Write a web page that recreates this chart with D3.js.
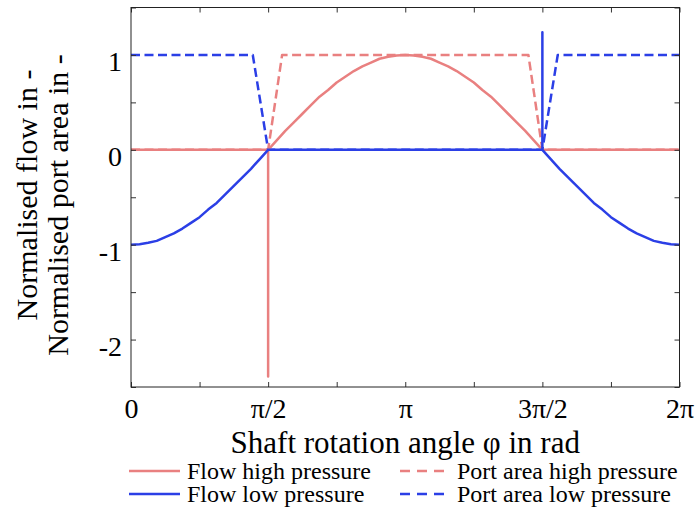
<!DOCTYPE html>
<html>
<head>
<meta charset="utf-8">
<script src="https://cdn.jsdelivr.net/npm/d3@7"></script>
<style>
  html, body { margin: 0; padding: 0; background: #fff; }
  svg { display: block; }
  text { font-family: "Liberation Serif", "Times New Roman", serif; fill: #000; }
</style>
</head>
<body>
<svg id="chart" width="695" height="509"></svg>
<script>
// ---------- data (phi in multiples of pi, value) ----------
const xTickValues = [0, 0.25, 0.5, 0.75, 1, 1.25, 1.5, 1.75, 2];
const xTickLabels = {0: "0", 0.5: "π/2", 1: "π", 1.5: "3π/2", 2: "2π"};
const yTickValues = [-2.5, -2, -1.5, -1, -0.5, 0, 0.5, 1, 1.5];
const yTickLabels = {"-2": "-2", "-1": "-1", "0": "0", "1": "1"};

const flowHigh = [
  [0, 0], [0.5, 0], [0.5, -2.39], [0.5, 0],
  [0.53125, 0.10], [0.5625, 0.20], [0.59375, 0.29], [0.625, 0.38],
  [0.65625, 0.47], [0.6875, 0.56], [0.71875, 0.63], [0.75, 0.71],
  [0.78125, 0.77], [0.8125, 0.83], [0.84375, 0.88], [0.875, 0.92],
  [0.90625, 0.96], [0.9375, 0.98], [0.96875, 0.995], [1, 1],
  [1.03125, 0.995], [1.0625, 0.98], [1.09375, 0.96], [1.125, 0.92],
  [1.15625, 0.88], [1.1875, 0.83], [1.21875, 0.77], [1.25, 0.71],
  [1.28125, 0.63], [1.3125, 0.56], [1.34375, 0.47], [1.375, 0.38],
  [1.40625, 0.29], [1.4375, 0.20], [1.46875, 0.10], [1.5, 0], [2, 0]
];
const flowLow = [
  [0, -1], [0.03125, -0.995], [0.0625, -0.98], [0.09375, -0.96], [0.125, -0.92],
  [0.15625, -0.88], [0.1875, -0.83], [0.21875, -0.77], [0.25, -0.71],
  [0.28125, -0.63], [0.3125, -0.56], [0.34375, -0.47], [0.375, -0.38],
  [0.40625, -0.29], [0.4375, -0.20], [0.46875, -0.10], [0.5, 0],
  [1.5, 0], [1.5, 1.24], [1.5, 0],
  [1.53125, -0.10], [1.5625, -0.20], [1.59375, -0.29], [1.625, -0.38],
  [1.65625, -0.47], [1.6875, -0.56], [1.71875, -0.63], [1.75, -0.71],
  [1.78125, -0.77], [1.8125, -0.83], [1.84375, -0.88], [1.875, -0.92],
  [1.90625, -0.96], [1.9375, -0.98], [1.96875, -0.995], [2, -1]
];
const portHigh = [[0, 0], [0.5, 0], [0.551, 1], [1.449, 1], [1.5, 0], [2, 0]];
const portLow = [[0, 1], [0.444, 1], [0.5, 0], [1.5, 0], [1.556, 1], [2, 1]];

const seriesNames = ["Flow high pressure", "Flow low pressure", "Port area high pressure", "Port area low pressure"];

// ---------- styles ----------
const RED = "#e98080";
const BLUE = "#2b3fe6";
const series = [
  {data: portHigh, color: RED, dash: "9,4.5"},
  {data: portLow, color: BLUE, dash: "9,4.5"},
  {data: flowHigh, color: RED, dash: null},
  {data: flowLow, color: BLUE, dash: null}
];

const L = 131, R = 679.5, T = 7.5, B = 387;
const svg = d3.select("#chart");
const x = d3.scaleLinear().domain([0, 2 * Math.PI]).range([L, R]);
const y = d3.scaleLinear().domain([-2.5, 1.5]).range([B, T]);

const line = d3.line()
  .x(d => x(d[0] * Math.PI))
  .y(d => y(d[1]));

const clipId = "plotclip";
svg.append("defs").append("clipPath").attr("id", clipId)
  .append("rect").attr("x", L).attr("y", T).attr("width", R - L).attr("height", B - T);

const plot = svg.append("g").attr("clip-path", `url(#${clipId})`);
series.forEach(s => {
  plot.append("path")
    .attr("d", line(s.data))
    .attr("fill", "none")
    .attr("stroke", s.color)
    .attr("stroke-width", 2.5)
    .attr("stroke-linejoin", "round")
    .attr("stroke-dasharray", s.dash);
});

// ---------- axes ----------
const xt = xTickValues.map(v => v * Math.PI);
const fmtX = v => { const k = Math.round(v / Math.PI * 100) / 100; return xTickLabels[k] || ""; };
const fmtY = v => yTickLabels[String(v)] || "";

const gx = svg.append("g").attr("transform", `translate(0,${B})`)
  .call(d3.axisBottom(x).tickValues(xt).tickSize(-5).tickPadding(11).tickFormat(fmtX));
svg.append("g").attr("transform", `translate(0,${T})`)
  .call(d3.axisTop(x).tickValues(xt).tickSize(-5).tickFormat(() => ""));
const gy = svg.append("g").attr("transform", `translate(${L},0)`)
  .call(d3.axisLeft(y).tickValues(yTickValues).tickSize(-5).tickPadding(9).tickFormat(fmtY));
svg.append("g").attr("transform", `translate(${R},0)`)
  .call(d3.axisRight(y).tickValues(yTickValues).tickSize(-5).tickFormat(() => ""));

svg.selectAll(".domain").remove();
svg.selectAll(".tick line").attr("stroke", "#333").attr("stroke-width", 1);
svg.selectAll("g").attr("font-family", "Liberation Serif");
gx.selectAll("text").style("font-size", "28px").style("font-family", "'Liberation Serif', serif").attr("fill", "#000");
gy.selectAll("text").style("font-size", "28px").style("font-family", "'Liberation Serif', serif").attr("fill", "#000").attr("dy", "0.57em");

svg.append("rect").attr("x", L).attr("y", T).attr("width", R - L).attr("height", B - T)
  .attr("fill", "none").attr("stroke", "#222").attr("stroke-width", 1);

// ---------- axis titles ----------
svg.append("text").attr("x", (L + R) / 2).attr("y", 453)
  .attr("text-anchor", "middle").style("font-size", "31px")
  .text("Shaft rotation angle φ in rad");
svg.append("text").attr("transform", "translate(37,195) rotate(-90)")
  .attr("text-anchor", "middle").style("font-size", "30px")
  .text("Normalised flow in -");
svg.append("text").attr("transform", "translate(68,205) rotate(-90)")
  .attr("text-anchor", "middle").style("font-size", "30px")
  .text("Normalised port area in -");

// ---------- legend ----------
const legendItems = [
  {name: seriesNames[0], color: RED, dash: null, x1: 129, x2: 180, tx: 187, y: 471},
  {name: seriesNames[1], color: BLUE, dash: null, x1: 129, x2: 180, tx: 187, y: 494},
  {name: seriesNames[2], color: RED, dash: "10,7", x1: 400, x2: 444, tx: 457, y: 471},
  {name: seriesNames[3], color: BLUE, dash: "10,7", x1: 400, x2: 444, tx: 457, y: 494}
];
const lg = svg.append("g");
legendItems.forEach(it => {
  lg.append("line").attr("x1", it.x1).attr("x2", it.x2).attr("y1", it.y).attr("y2", it.y)
    .attr("stroke", it.color).attr("stroke-width", 2.5).attr("stroke-dasharray", it.dash);
  lg.append("text").attr("x", it.tx).attr("y", it.y + 8).style("font-size", "24px").text(it.name);
});
</script>
</body>
</html>
